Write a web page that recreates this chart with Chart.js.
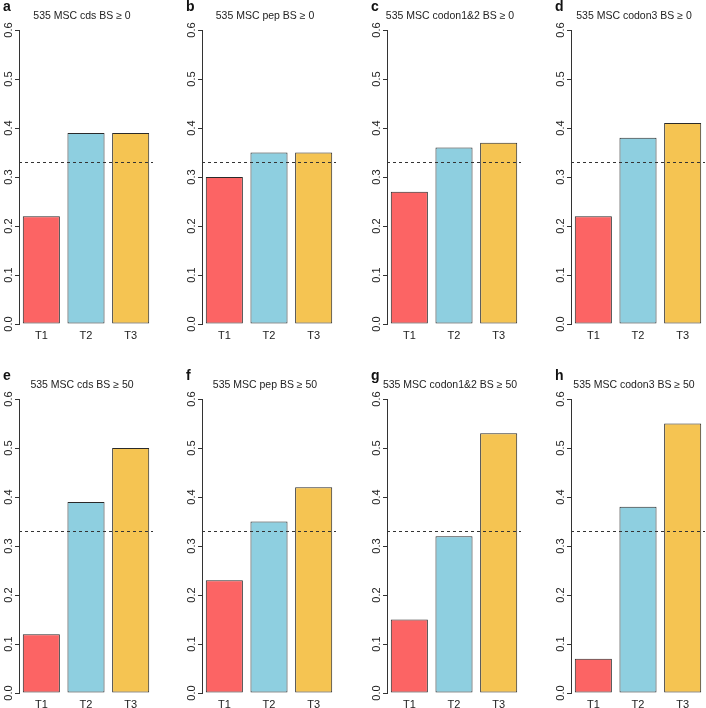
<!DOCTYPE html>
<html>
<head>
<meta charset="utf-8">
<script src="https://cdn.jsdelivr.net/npm/chart.js@4.4.1/dist/chart.umd.min.js"></script>
<style>
  html, body { margin: 0; padding: 0; background: #fff; overflow: hidden; }
  #wrap { position: relative; width: 706px; height: 708px; }
  .panel { position: absolute; width: 154px; height: 369px; }
</style>
</head>
<body>
<div id="wrap"></div>
<script>
// datos de cada panel
const categorias = ['T1', 'T2', 'T3'];
const letras = ['a', 'b', 'c', 'd', 'e', 'f', 'g', 'h'];
const titulos = [
  '535 MSC cds BS \u2265 0',
  '535 MSC pep BS \u2265 0',
  '535 MSC codon1&2 BS \u2265 0',
  '535 MSC codon3 BS \u2265 0',
  '535 MSC cds BS \u2265 50',
  '535 MSC pep BS \u2265 50',
  '535 MSC codon1&2 BS \u2265 50',
  '535 MSC codon3 BS \u2265 50'
];
const valoresA = [0.22, 0.39, 0.39];
const valoresB = [0.30, 0.35, 0.35];
const valoresC = [0.27, 0.36, 0.37];
const valoresD = [0.22, 0.38, 0.41];
const valoresE = [0.12, 0.39, 0.50];
const valoresF = [0.23, 0.35, 0.42];
const valoresG = [0.15, 0.32, 0.53];
const valoresH = [0.07, 0.38, 0.55];
const lineaRef = 0.33;
const yMin = 0, yMax = 0.6, yPaso = 0.1;

const valores = [valoresA, valoresB, valoresC, valoresD, valoresE, valoresF, valoresG, valoresH];
const colores = ['#FC6464', '#8ECFE0', '#F5C452'];

// posición de cada panel (eje y en x, fila en y)
const ejesX = [19, 202, 387, 571];
const filasY = [0, 369];

Chart.defaults.font.family = '"Liberation Sans", Arial, sans-serif';
Chart.defaults.color = '#222';

// dibuja letra, título, línea discontinua y etiquetas giradas del eje y
const decoraciones = {
  id: 'decoraciones',
  afterDraw(chart, args, opts) {
    const ctx = chart.ctx;
    const area = chart.chartArea;
    const y = chart.scales.y;
    ctx.save();
    // línea de referencia
    ctx.strokeStyle = '#333';
    ctx.lineWidth = 1;
    ctx.setLineDash([3, 3]);
    const yRef = Math.round(y.getPixelForValue(lineaRef)) + 0.5;
    ctx.beginPath();
    ctx.moveTo(area.left, yRef);
    ctx.lineTo(area.right, yRef);
    ctx.stroke();
    ctx.setLineDash([]);
    // letra del panel
    ctx.fillStyle = '#111';
    ctx.font = 'bold 14px "Liberation Sans", Arial, sans-serif';
    ctx.textAlign = 'left';
    ctx.textBaseline = 'alphabetic';
    ctx.fillText(opts.letra, area.left - 16, 11);
    // título
    ctx.fillStyle = '#222';
    ctx.font = '10.5px "Liberation Sans", Arial, sans-serif';
    ctx.textAlign = 'center';
    ctx.fillText(opts.titulo, area.left + 63, 19);
    // etiquetas del eje y, giradas
    ctx.font = '11px "Liberation Sans", Arial, sans-serif';
    y.ticks.forEach(t => {
      const py = y.getPixelForValue(t.value);
      ctx.save();
      ctx.translate(area.left - 10, py);
      ctx.rotate(-Math.PI / 2);
      ctx.textAlign = 'center';
      ctx.textBaseline = 'middle';
      ctx.fillText(t.value.toFixed(1), 0, 0);
      ctx.restore();
    });
    ctx.restore();
  }
};

const wrap = document.getElementById('wrap');
valores.forEach((datos, i) => {
  const div = document.createElement('div');
  div.className = 'panel';
  div.style.left = (ejesX[i % 4] - 19) + 'px';
  div.style.top = filasY[Math.floor(i / 4)] + 'px';
  const canvas = document.createElement('canvas');
  div.appendChild(canvas);
  wrap.appendChild(div);

  new Chart(canvas.getContext('2d'), {
    type: 'bar',
    data: {
      labels: categorias,
      datasets: [{
        data: datos,
        backgroundColor: colores,
        borderColor: '#2a2a2a',
        borderWidth: 1,
        borderSkipped: false,
        barPercentage: 0.83,
        categoryPercentage: 1
      }]
    },
    options: {
      responsive: true,
      maintainAspectRatio: false,
      animation: false,
      layout: { padding: { top: 30, right: 1, left: 0, bottom: 0 } },
      plugins: {
        legend: { display: false },
        tooltip: { enabled: false },
        decoraciones: { letra: letras[i], titulo: titulos[i] }
      },
      scales: {
        x: {
          grid: { display: false, drawTicks: false },
          border: { display: false },
          ticks: { padding: 5, font: { size: 11 }, color: '#222' },
          afterFit: s => { s.height = 45; }
        },
        y: {
          min: yMin,
          max: yMax,
          grid: { drawOnChartArea: false, drawTicks: true, tickLength: 4, color: '#333' },
          border: { display: true, color: '#333' },
          ticks: { stepSize: yPaso, display: false },
          afterFit: s => { s.width = 19; }
        }
      }
    },
    plugins: [decoraciones]
  });
});
</script>
</body>
</html>
